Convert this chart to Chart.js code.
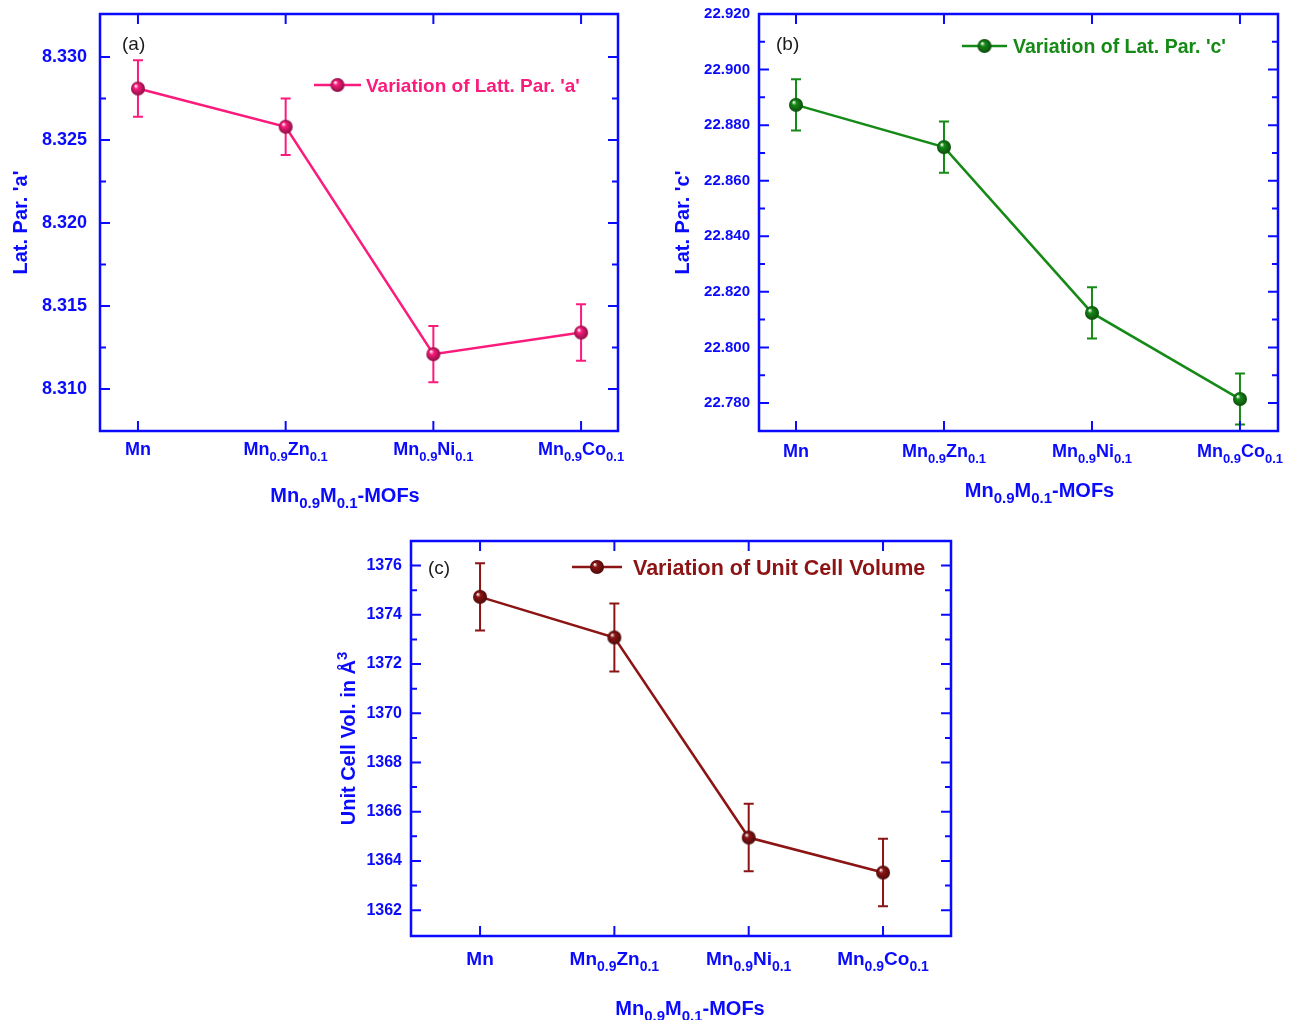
<!DOCTYPE html>
<html lang="en">
<head>
<meta charset="UTF-8">
<title>Mn0.9M0.1-MOFs lattice parameters</title>
<style>
  body { margin: 0; background: #fff; }
  .panel { position: absolute; }
</style>
</head>
<body>
<div class="panel" style="left:0;top:0"><canvas id="chartA" width="650" height="520"></canvas></div>
<div class="panel" style="left:650px;top:0"><canvas id="chartB" width="643" height="520"></canvas></div>
<div class="panel" style="left:300px;top:520px"><canvas id="chartC" width="700" height="500"></canvas></div>
<script src="https://cdn.jsdelivr.net/npm/chart.js@4"></script>
<script>
// categories (_{..} = subscript, ^{..} = superscript)
const categories = ['Mn', 'Mn_{0.9}Zn_{0.1}', 'Mn_{0.9}Ni_{0.1}', 'Mn_{0.9}Co_{0.1}'];

// (a) lattice parameter a
const latA = [8.3281, 8.3258, 8.3121, 8.3134];
const latAErr = [0.0017, 0.0017, 0.0017, 0.0017];
const ticksA = [8.310, 8.315, 8.320, 8.325, 8.330];

// (b) lattice parameter c
const latC = [22.8873, 22.8721, 22.8124, 22.7814];
const latCErr = [0.0092, 0.0092, 0.0092, 0.0092];
const ticksC = [22.780, 22.800, 22.820, 22.840, 22.860, 22.880, 22.900, 22.920];

// (c) unit cell volume
const cellVol = [1374.73, 1373.08, 1364.95, 1363.53];
const cellVolErr = [1.37, 1.38, 1.37, 1.37];
const ticksV = [1362, 1364, 1366, 1368, 1370, 1372, 1374, 1376];

const FONT = '"Liberation Sans", Arial, sans-serif';
const BLUE = '#0a0aff';

function parseRich(s) {
  const parts = [];
  const re = /([_^])\{([^}]*)\}|([^_^]+)/g;
  let m;
  while ((m = re.exec(s))) {
    if (m[3]) parts.push({ t: m[3], k: 0 });
    else parts.push({ t: m[2], k: m[1] === '_' ? 1 : -1 });
  }
  return parts;
}

// y = visual middle of the capital letters
function drawRich(ctx, s, x, y, size, color, align, weight) {
  const parts = parseRich(s);
  const small = Math.round(size * 0.74);
  const font = sz => weight + ' ' + sz + 'px ' + FONT;
  let w = 0;
  parts.forEach(p => {
    ctx.font = font(p.k ? small : size);
    p.w = ctx.measureText(p.t).width;
    w += p.w;
  });
  let cx = align === 'center' ? x - w / 2 : align === 'right' ? x - w : x;
  ctx.fillStyle = color;
  ctx.textAlign = 'left';
  ctx.textBaseline = 'alphabetic';
  const base = y + size * 0.36;
  parts.forEach(p => {
    ctx.font = font(p.k ? small : size);
    const dy = p.k === 1 ? size * 0.3 : p.k === -1 ? -size * 0.42 : 0;
    ctx.fillText(p.t, cx, base + dy);
    cx += p.w;
  });
}

function darker(hex, f) {
  const n = parseInt(hex.slice(1), 16);
  const r = Math.round(((n >> 16) & 255) * f), g = Math.round(((n >> 8) & 255) * f), b = Math.round((n & 255) * f);
  return 'rgb(' + r + ',' + g + ',' + b + ')';
}

function sphere(color, r) {
  const c = document.createElement('canvas');
  const s = Math.ceil(r * 2 + 2);
  c.width = c.height = s;
  const g = c.getContext('2d');
  const m = s / 2;
  const grad = g.createRadialGradient(m - r * 0.35, m - r * 0.4, r * 0.05, m, m, r);
  grad.addColorStop(0, '#ffffff');
  grad.addColorStop(0.3, color);
  grad.addColorStop(1, darker(color, 0.55));
  g.fillStyle = grad;
  g.beginPath();
  g.arc(m, m, r, 0, Math.PI * 2);
  g.fill();
  return c;
}

const panels = [
  {
    id: 'chartA', values: latA, errors: latAErr, yTicks: ticksA, color: '#fb1b7c',
    yMin: 8.30747, yMax: 8.33259, xMin: -0.257, xMax: 3.25, dec: 3,
    area: { left: 100, top: 14, right: 618, bottom: 431 },
    yFont: 18, tickPad: 13, xFont: 18, xLabelY: 449,
    xTitle: 'Mn_{0.9}M_{0.1}-MOFs', xTitleY: 495, xTitleDx: -14,
    yTitle: "Lat. Par. 'a'", yTitleX: 20,
    tag: '(a)', tagX: 122, tagY: 43,
    legend: "Variation of Latt. Par. 'a'", legX: 314, legY: 85, legLen: 47, legGap: 5, legFont: 19
  },
  {
    id: 'chartB', values: latC, errors: latCErr, yTicks: ticksC, color: '#168a16',
    yMin: 22.7699, yMax: 22.920, xMin: -0.25, xMax: 3.257, dec: 3,
    area: { left: 109, top: 14, right: 628, bottom: 431 },
    yFont: 15, tickPad: 9, xFont: 18, xLabelY: 451,
    xTitle: 'Mn_{0.9}M_{0.1}-MOFs', xTitleY: 490, xTitleDx: 21,
    yTitle: "Lat. Par. 'c'", yTitleX: 32,
    tag: '(b)', tagX: 126, tagY: 43,
    legend: "Variation of Lat. Par. 'c'", legX: 312, legY: 46, legLen: 45, legGap: 6, legFont: 19.5
  },
  {
    id: 'chartC', values: cellVol, errors: cellVolErr, yTicks: ticksV, color: '#8c1414',
    yMin: 1360.95, yMax: 1377.0, xMin: -0.514, xMax: 3.506, dec: 0,
    area: { left: 111, top: 21, right: 651, bottom: 416 },
    yFont: 16, tickPad: 9, xFont: 19, xLabelY: 438,
    xTitle: 'Mn_{0.9}M_{0.1}-MOFs', xTitleY: 488, xTitleDx: 9,
    yTitle: 'Unit Cell Vol. in Å^{3}', yTitleX: 48,
    tag: '(c)', tagX: 128, tagY: 47,
    legend: 'Variation of Unit Cell Volume', legX: 272, legY: 47, legLen: 50, legGap: 11, legFont: 21.5
  }
];

const errorBars = {
  id: 'errorBars',
  beforeDatasetsDraw(chart) {
    const ctx = chart.ctx, xs = chart.scales.x, ys = chart.scales.y;
    chart.data.datasets.forEach(ds => {
      ctx.save();
      ctx.strokeStyle = ds.borderColor;
      ctx.lineWidth = 2;
      ds.data.forEach((p, i) => {
        const e = ds.errors[i];
        const x = xs.getPixelForValue(p.x);
        const y1 = ys.getPixelForValue(p.y + e), y2 = ys.getPixelForValue(p.y - e);
        ctx.beginPath();
        ctx.moveTo(x, y1); ctx.lineTo(x, y2);
        ctx.moveTo(x - 5, y1); ctx.lineTo(x + 5, y1);
        ctx.moveTo(x - 5, y2); ctx.lineTo(x + 5, y2);
        ctx.stroke();
      });
      ctx.restore();
    });
  }
};

const decor = {
  id: 'decor',
  afterDraw(chart, args, opts) {
    const P = opts.panel;
    const ctx = chart.ctx, a = chart.chartArea, xs = chart.scales.x, ys = chart.scales.y;
    ctx.save();
    // frame
    ctx.strokeStyle = BLUE;
    ctx.lineWidth = 2.5;
    ctx.strokeRect(a.left, a.top, a.right - a.left, a.bottom - a.top);
    ctx.lineWidth = 2;
    ctx.beginPath();
    // x ticks (inward, bottom and top)
    xs.ticks.forEach(t => {
      const x = xs.getPixelForValue(t.value);
      ctx.moveTo(x, a.bottom); ctx.lineTo(x, a.bottom - 10);
      ctx.moveTo(x, a.top); ctx.lineTo(x, a.top + 10);
    });
    // y ticks, major and minor
    const step = P.yTicks[1] - P.yTicks[0];
    const yt = P.yTicks;
    yt.forEach(v => {
      const y = ys.getPixelForValue(v);
      ctx.moveTo(a.left, y); ctx.lineTo(a.left + 10, y);
      ctx.moveTo(a.right, y); ctx.lineTo(a.right - 10, y);
    });
    const minors = [];
    for (let i = -1; i < yt.length; i++) {
      const v = (i < 0 ? yt[0] - step : yt[i]) + step / 2;
      if (v > P.yMin + step * 0.05 && v < P.yMax - step * 0.05) minors.push(v);
    }
    minors.forEach(v => {
      const y = ys.getPixelForValue(v);
      ctx.moveTo(a.left, y); ctx.lineTo(a.left + 6, y);
      ctx.moveTo(a.right, y); ctx.lineTo(a.right - 6, y);
    });
    ctx.stroke();

    // category labels
    categories.forEach((c, i) => {
      drawRich(ctx, c, xs.getPixelForValue(i), P.xLabelY, P.xFont, BLUE, 'center', 'bold');
    });
    // axis titles
    drawRich(ctx, P.xTitle, (a.left + a.right) / 2 + P.xTitleDx, P.xTitleY, 20, BLUE, 'center', 'bold');
    ctx.save();
    ctx.translate(P.yTitleX, (a.top + a.bottom) / 2);
    ctx.rotate(-Math.PI / 2);
    drawRich(ctx, P.yTitle, 0, 0, 20, BLUE, 'center', 'bold');
    ctx.restore();

    // panel tag
    drawRich(ctx, P.tag, P.tagX, P.tagY, 19, '#1a1a1a', 'left', 'normal');

    // legend
    ctx.strokeStyle = P.color;
    ctx.lineWidth = 2.5;
    ctx.beginPath();
    ctx.moveTo(P.legX, P.legY); ctx.lineTo(P.legX + P.legLen, P.legY);
    ctx.stroke();
    const img = sphere(P.color, 7);
    ctx.drawImage(img, P.legX + P.legLen / 2 - img.width / 2, P.legY - img.height / 2);
    drawRich(ctx, P.legend, P.legX + P.legLen + P.legGap, P.legY, P.legFont, P.color, 'left', 'bold');
    ctx.restore();
  }
};

panels.forEach(P => {
  const canvas = document.getElementById(P.id);
  const W = canvas.width, H = canvas.height;
  new Chart(canvas, {
    type: 'line',
    data: {
      datasets: [{
        label: P.legend,
        data: P.values.map((v, i) => ({ x: i, y: v })),
        errors: P.errors,
        borderColor: P.color,
        borderWidth: 2.5,
        pointStyle: sphere(P.color, 7),
        pointRadius: 7,
        tension: 0,
        clip: false
      }]
    },
    options: {
      responsive: false,
      animation: false,
      events: [],
      layout: { padding: { top: P.area.top, right: W - P.area.right, left: 0, bottom: 0 } },
      plugins: {
        legend: { display: false },
        tooltip: { enabled: false },
        decor: { panel: P }
      },
      scales: {
        x: {
          type: 'linear', min: P.xMin, max: P.xMax,
          grid: { display: false, drawTicks: false },
          border: { display: false },
          ticks: { display: false },
          afterBuildTicks: s => { s.ticks = categories.map((c, i) => ({ value: i })); },
          afterFit: s => { s.height = H - P.area.bottom; s.paddingLeft = 0; s.paddingRight = 0; }
        },
        y: {
          type: 'linear', min: P.yMin, max: P.yMax,
          grid: { display: false, drawTicks: false },
          border: { display: false },
          ticks: {
            color: BLUE, padding: P.tickPad, autoSkip: false,
            font: { family: FONT, size: P.yFont, weight: 'bold' },
            callback: v => Number(v).toFixed(P.dec)
          },
          afterBuildTicks: s => { s.ticks = P.yTicks.map(v => ({ value: v })); },
          afterFit: s => { s.width = P.area.left; s.paddingTop = 0; s.paddingBottom = 0; }
        }
      }
    },
    plugins: [errorBars, decor]
  });
});
</script>
</body>
</html>
